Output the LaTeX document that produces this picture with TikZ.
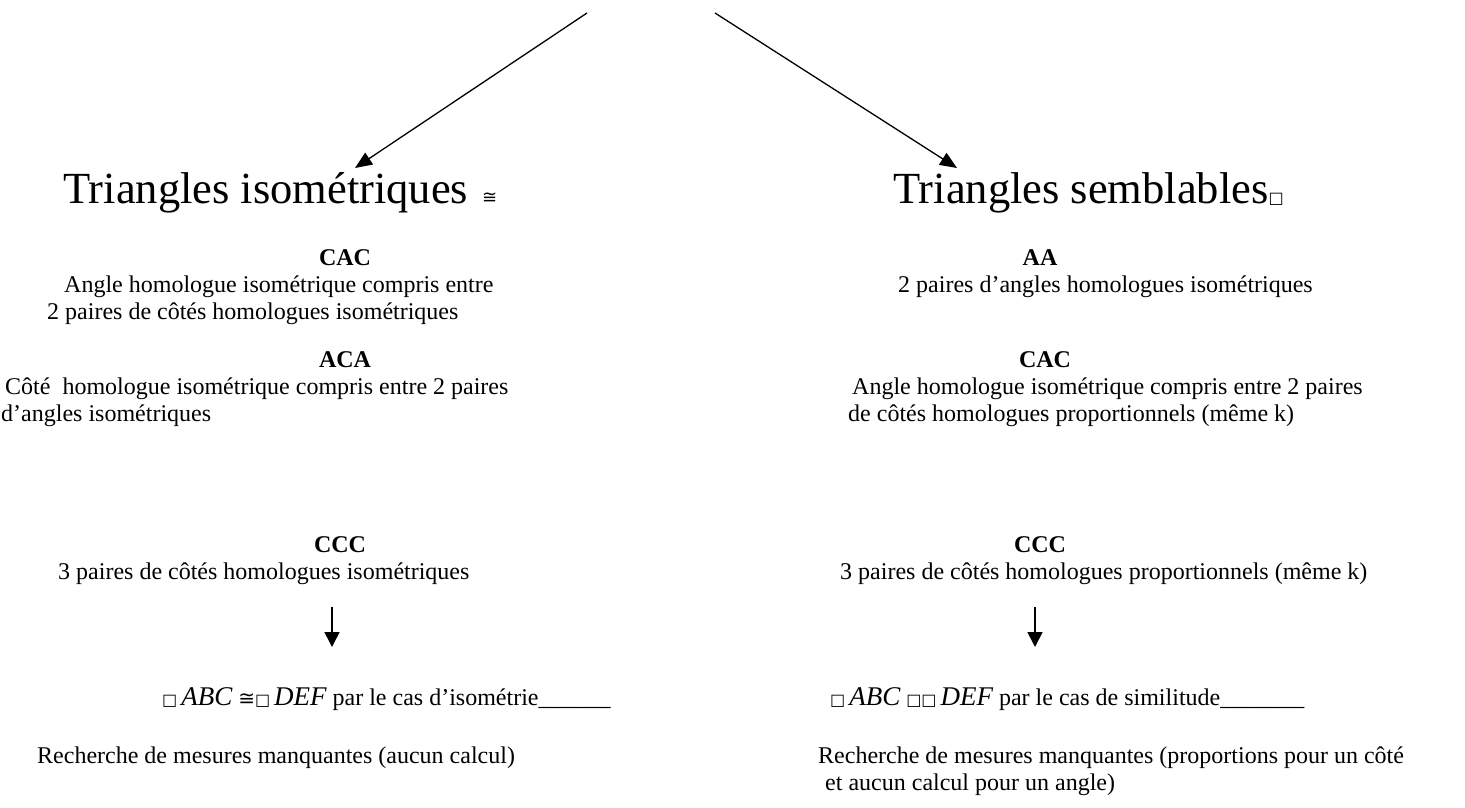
\documentclass[tikz,border=0pt]{standalone}
\usepackage{fontspec}
\setmainfont{Liberation Serif}
\newfontfamily\symfont{DejaVu Sans}
\usetikzlibrary{arrows.meta}
\tikzset{
  body/.style={font=\fontsize{24}{28}\selectfont, anchor=base west, inner sep=0pt},
  head/.style={font=\bfseries\fontsize{24}{28}\selectfont, anchor=base, inner sep=0pt},
  ttl/.style={font=\fontsize{44.5}{52}\selectfont, anchor=base west, inner sep=0pt},
  arr/.style={-{Triangle[length=17pt,width=14pt]}, line width=1.3pt},
  darr/.style={-{Triangle[length=15pt,width=15pt]}, line width=1.6pt},
}
\newcommand{\bx}{{\symfont\fontsize{16}{18}\selectfont □}}
\newcommand{\mth}[1]{{\fontsize{27}{32}\selectfont\itshape #1}}
\begin{document}
\begin{tikzpicture}[x=1pt,y=-1pt]
\useasboundingbox (0,0) rectangle (1465,808);
% top connectors
\coordinate (tl) at (587,13);
\coordinate (tr) at (715,13);
% titles
\node[ttl] (iso) at (63,203) {Triangles isométriques\hspace{14pt}{\symfont\fontsize{18}{20}\selectfont ≅}};
\node[ttl] (sem) at (893,203) {Triangles semblables{\symfont\fontsize{16}{18}\selectfont □}};
\coordinate (isoT) at (355,168);
\coordinate (semT) at (957,168);
\draw[arr] (tl) -- (isoT);
\draw[arr] (tr) -- (semT);
% left column
\node[head] (lcac) at (345,265) {CAC};
\node[body] (lcac1) at (64,292) {Angle homologue isométrique compris entre};
\node[body] (lcac2) at (47,319) {2 paires de côtés homologues isométriques};
\node[head] (laca) at (345,367) {ACA};
\node[body] (laca1) at (5,394) {Côté\ \ homologue isométrique compris entre 2 paires};
\node[body] (laca2) at (1,421) {d’angles isométriques};
\node[head] (lccc) at (340,552) {CCC};
\node[body] (lccc1) at (58,579) {3 paires de côtés homologues isométriques};
\coordinate (la1) at (332,607);
\coordinate (la2) at (332,647);
\draw[darr] (la1) -- (la2);
\node[body] (lres) at (162,705) {\bx\,\mth{ABC} {\symfont\fontsize{20}{22}\selectfont ≅}\bx\,\mth{DEF} par le cas d’isométrie\_\_\_\_\_\_};
\node[body] (lrech) at (37,763) {Recherche de mesures manquantes (aucun calcul)};
% right column
\node[head] (raa) at (1040,265) {AA};
\node[body] (raa1) at (898,292) {2 paires d’angles homologues isométriques};
\node[head] (rcac) at (1045,367) {CAC};
\node[body] (rcac1) at (852,394) {Angle homologue isométrique compris entre 2 paires};
\node[body] (rcac2) at (848,421) {de côtés homologues proportionnels (même k)};
\node[head] (rccc) at (1040,552) {CCC};
\node[body] (rccc1) at (840,579) {3 paires de côtés homologues proportionnels (même k)};
\coordinate (ra1) at (1035,607);
\coordinate (ra2) at (1035,647);
\draw[darr] (ra1) -- (ra2);
\node[body] (rres) at (830,705) {\bx\,\mth{ABC} \bx\bx\,\mth{DEF} par le cas de similitude\_\_\_\_\_\_\_};
\node[body] (rrech) at (818,763) {Recherche de mesures manquantes (proportions pour un côté};
\node[body] (rrech2) at (825,790) {et aucun calcul pour un angle)};
\end{tikzpicture}
\end{document}
